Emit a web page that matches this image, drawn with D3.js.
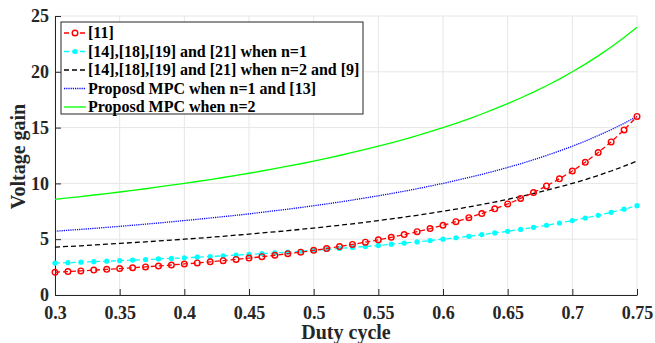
<!DOCTYPE html>
<html>
<head>
<meta charset="utf-8">
<title>Voltage gain</title>
<script src="https://d3js.org/d3.v7.min.js"></script>
<style>
  body { margin: 0; background: #fff; }
  text { font-family: "Liberation Serif", "Times New Roman", serif; font-weight: bold; }
</style>
</head>
<body>
<div id="chart"></div>
<script>
// duty cycle values (x)
var duty = [0.30,0.31,0.32,0.33,0.34,0.35,0.36,0.37,0.38,0.39,0.40,0.41,0.42,0.43,0.44,0.45,
  0.46,0.47,0.48,0.49,0.50,0.51,0.52,0.53,0.54,0.55,0.56,0.57,0.58,0.59,0.60,0.61,0.62,0.63,
  0.64,0.65,0.66,0.67,0.68,0.69,0.70,0.71,0.72,0.73,0.74,0.75];

// series values
var ref11 = [2.04,2.10,2.16,2.23,2.30,2.37,2.44,2.52,2.60,2.69,2.78,2.87,2.97,3.08,3.19,3.31,
  3.43,3.56,3.70,3.84,4.00,4.16,4.34,4.53,4.73,4.94,5.17,5.41,5.67,5.95,6.25,6.57,6.93,7.30,
  7.72,8.16,8.65,9.18,9.77,10.41,11.11,11.89,12.76,13.72,14.79,16.00];
var refN1 = [2.86,2.90,2.94,2.99,3.03,3.08,3.13,3.17,3.23,3.28,3.33,3.39,3.45,3.51,3.57,3.64,
  3.70,3.77,3.85,3.92,4.00,4.08,4.17,4.26,4.35,4.44,4.55,4.65,4.76,4.88,5.00,5.13,5.26,5.41,
  5.56,5.71,5.88,6.06,6.25,6.45,6.67,6.90,7.14,7.41,7.69,8.00];
var refN2 = [4.29,4.35,4.41,4.48,4.55,4.62,4.69,4.76,4.84,4.92,5.00,5.08,5.17,5.26,5.36,5.45,
  5.56,5.66,5.77,5.88,6.00,6.12,6.25,6.38,6.52,6.67,6.82,6.98,7.14,7.32,7.50,7.69,7.89,8.11,
  8.33,8.57,8.82,9.09,9.38,9.68,10.00,10.34,10.71,11.11,11.54,12.00];
var mpcN1 = [5.71,5.80,5.88,5.97,6.06,6.15,6.25,6.35,6.45,6.56,6.67,6.78,6.90,7.02,7.14,7.27,
  7.41,7.55,7.69,7.84,8.00,8.16,8.33,8.51,8.70,8.89,9.09,9.30,9.52,9.76,10.00,10.26,10.53,10.81,
  11.11,11.43,11.76,12.12,12.50,12.90,13.33,13.79,14.29,14.81,15.38,16.00];
var mpcN2 = [8.57,8.70,8.82,8.96,9.09,9.23,9.38,9.52,9.68,9.84,10.00,10.17,10.34,10.53,10.71,10.91,
  11.11,11.32,11.54,11.76,12.00,12.24,12.50,12.77,13.04,13.33,13.64,13.95,14.29,14.63,15.00,15.38,
  15.79,16.22,16.67,17.14,17.65,18.18,18.75,19.35,20.00,20.69,21.43,22.22,23.08,24.00];

var xTicks = [0.3,0.35,0.4,0.45,0.5,0.55,0.6,0.65,0.7,0.75];
var yTicks = [0,5,10,15,20,25];

var labels = ["[11]", "[14],[18],[19] and [21] when n=1", "[14],[18],[19] and [21] when n=2 and [9]",
  "Proposd MPC when n=1 and [13]", "Proposd MPC when n=2"];

var series = [
  {name: labels[0], vals: ref11, color: "#ff0000", dash: "5,3", marker: "circle"},
  {name: labels[1], vals: refN1, color: "#00ffff", dash: "5,3", marker: "dot"},
  {name: labels[2], vals: refN2, color: "#000000", dash: "5,3", marker: null},
  {name: labels[3], vals: mpcN1, color: "#0000ff", dash: "1.2,1", marker: null},
  {name: labels[4], vals: mpcN2, color: "#00ff00", dash: null, marker: null}
];

var width = 655, height = 343;
var margin = {top: 16, right: 18, bottom: 48, left: 55};
var w = width - margin.left - margin.right,
    h = height - margin.top - margin.bottom;

var svg = d3.select("#chart").append("svg")
    .attr("width", width)
    .attr("height", height)
  .append("g")
    .attr("transform", "translate(" + margin.left + "," + margin.top + ")");

var x = d3.scaleLinear().domain([0.3, 0.75]).range([0, w]);
var y = d3.scaleLinear().domain([0, 25]).range([h, 0]);

// grid
svg.append("g").selectAll("line").data(xTicks).enter().append("line")
    .attr("x1", d => x(d)).attr("x2", d => x(d))
    .attr("y1", 0).attr("y2", h)
    .style("stroke", "#e6e6e6").style("stroke-width", 1);
svg.append("g").selectAll("line").data(yTicks).enter().append("line")
    .attr("x1", 0).attr("x2", w)
    .attr("y1", d => y(d)).attr("y2", d => y(d))
    .style("stroke", "#e6e6e6").style("stroke-width", 1);

// axes (ticks inside like matlab)
var xAxis = svg.append("g")
    .attr("transform", "translate(0," + h + ")")
    .call(d3.axisBottom(x).tickValues(xTicks).tickFormat(d3.format("")).tickSizeInner(-6).tickSizeOuter(0).tickPadding(11));
var yAxis = svg.append("g")
    .call(d3.axisLeft(y).tickValues(yTicks).tickSizeInner(-6).tickSizeOuter(0).tickPadding(6));
[xAxis, yAxis].forEach(function(a) {
  a.selectAll("text").style("font-size", "18px").style("fill", "#262626")
    .style("font-family", "'Liberation Serif', serif").style("font-weight", "bold");
  a.select(".domain").style("stroke", "#262626");
  a.selectAll(".tick line").style("stroke", "#262626");
});

// lines
var line = d3.line().x((d, i) => x(duty[i])).y(d => y(d));
series.slice().reverse().forEach(function(s) {
  svg.append("path")
    .datum(s.vals)
    .attr("d", line)
    .style("fill", "none")
    .style("stroke", s.color)
    .style("stroke-width", 1.3)
    .style("stroke-dasharray", s.dash);
  if (s.marker == "circle") {
    svg.append("g").selectAll("circle").data(s.vals).enter().append("circle")
      .attr("cx", (d, i) => x(duty[i])).attr("cy", d => y(d)).attr("r", 2.8)
      .style("fill", "none").style("stroke", s.color).style("stroke-width", 1.4);
  } else if (s.marker == "dot") {
    svg.append("g").selectAll("circle").data(s.vals).enter().append("circle")
      .attr("cx", (d, i) => x(duty[i])).attr("cy", d => y(d)).attr("r", 2.6)
      .style("fill", s.color).style("stroke", "none");
  }
});

// axis labels
svg.append("text")
    .attr("x", w / 2).attr("y", h + 44)
    .attr("text-anchor", "middle")
    .style("font-size", "20px").style("fill", "#262626")
    .text("Duty cycle");
svg.append("text")
    .attr("transform", "translate(" + (-30) + "," + (h / 2 + 1) + ") rotate(-90)")
    .attr("text-anchor", "middle")
    .style("font-size", "20px").style("fill", "#262626")
    .text("Voltage gain");

// legend
var lg = svg.append("g").attr("transform", "translate(6,6)");
lg.append("rect")
    .attr("width", 302).attr("height", 92)
    .style("fill", "#fff").style("stroke", "#262626").style("stroke-width", 1);
series.forEach(function(s, i) {
  var yy = 11 + i * 18.5;
  lg.append("line")
    .attr("x1", 3).attr("x2", 25).attr("y1", yy).attr("y2", yy)
    .style("stroke", s.color).style("stroke-width", 1.3)
    .style("stroke-dasharray", s.dash);
  if (s.marker == "circle") {
    lg.append("circle").attr("cx", 14).attr("cy", yy).attr("r", 2.8)
      .style("fill", "#fff").style("stroke", s.color).style("stroke-width", 1.4);
  } else if (s.marker == "dot") {
    lg.append("circle").attr("cx", 14).attr("cy", yy).attr("r", 2.6).style("fill", s.color);
  }
  lg.append("text")
    .attr("x", 27).attr("y", yy + 5)
    .style("font-size", "16px").style("fill", "#000")
    .text(s.name);
});
</script>
</body>
</html>
